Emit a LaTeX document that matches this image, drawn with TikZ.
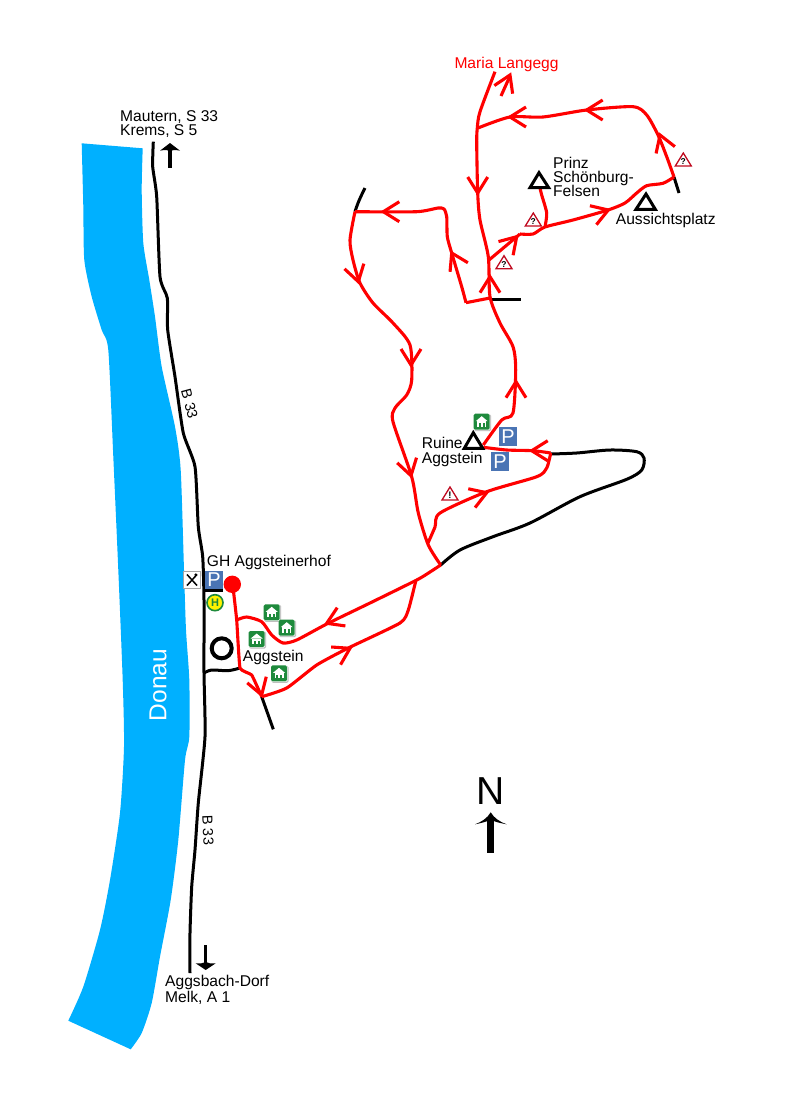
\documentclass[tikz,border=0pt]{standalone}
\usepackage{fontspec}
\setmainfont{Liberation Sans}
\definecolor{river}{HTML}{00B0FF}
\definecolor{pblue}{HTML}{4A74B4}
\definecolor{hgreen}{HTML}{1E8A3C}
\definecolor{wred}{HTML}{C00A20}
\tikzset{
  route/.style={draw=red,line width=3.1pt,line join=round},
  road/.style={draw=black,line width=3pt,line join=round},
  lab/.style={anchor=base west,inner sep=0pt,font=\fontsize{15.6}{16}\selectfont,text=black},
  peak/.style={draw=black,line width=3pt,line join=miter,fill=none},
  psign/.style={fill=pblue,draw=none,minimum size=18.5pt,inner sep=0pt,text=white,font=\fontsize{20}{20}\selectfont},
  chev/.pic={\draw[red,line width=3.1pt,line join=miter] (-16,10) -- (0,0) -- (-16,-10);},
  house/.pic={
    \fill[black!25,rounded corners=1.5pt] (-7.5,-7.5) rectangle (9.5,9.5);
    \fill[white,rounded corners=1.5pt] (-8,-8) rectangle (8.5,8.5);
    \fill[hgreen,rounded corners=1.5pt] (-8,-8) rectangle (8,8);
    \fill[white] (-6,-0.5) -- (0,-5.5) -- (6,-0.5) -- cycle;
    \fill[white] (-4.5,-0.5) rectangle (4.5,5);
    \fill[hgreen] (-2.8,1.5) rectangle (-0.8,5);
    \fill[hgreen] (0.8,1.5) rectangle (2.8,5);
  },
  warnbox/.pic={
    \draw[wred,line width=1.3pt,fill=white,line join=miter] (0,-7) -- (8,6) -- (-8,6) -- cycle;
  },
}
\begin{document}
\begin{tikzpicture}[x=1pt,y=-1pt]
\useasboundingbox[fill=white] (0,0) rectangle (800,1101);

% river
\fill[river] (81.7,143.3) -- (142.7,148.3) -- plot[smooth,tension=.4] coordinates {(142.7,148.3) (141.7,190) (143.3,243) (149.3,280) (155,316.7) (161.7,366.7) (175,426.7) (180.7,470) (184,570) (186,630) (189.3,680) (189.3,736.7) (185,760) (178.3,840) (170.7,900) (160,956.7) (151.7,1003) (141.7,1033) (130.7,1049.3)} -- (68.3,1020.7) -- plot[smooth,tension=.4] coordinates {(68.3,1020.7) (83.3,986.7) (100,930) (110,880) (120,813) (124,746.7) (122.7,680) (118.3,570) (113.3,456.7) (108.3,350) (101.7,330) (91.7,296.7) (84.3,260) (83.3,206.7) (81.7,143.3)} -- cycle;
\node[rotate=90,text=white,inner sep=0pt,font=\fontsize{24.5}{25}\selectfont] (donau) at (158,685) {Donau};

% black roads
\draw[road] plot[smooth,tension=.35] coordinates {(153.3,141.7) (152.7,166.7) (156.7,196.7) (160,276.7) (167.3,298) (167.7,330) (175,376.7) (183.3,433) (195,466.7) (198.3,526.7) (202.7,556.7) (204,600) (204,673) (205,736.7) (198.3,803) (195,850) (191.7,886.7) (190,933) (190,973)};
\draw[road] (203.3,590) -- (223,590);
\draw[road] plot[smooth,tension=.5] coordinates {(204,673) (211.7,670) (228,670.7) (240,668)};
\draw[road] (261.7,696.7) -- (273.3,729.3);
\draw[road] plot[smooth,tension=.5] coordinates {(550.7,454) (576.7,453) (610,450) (636.7,451.7) (644,458) (641.7,470) (626.7,479.3) (580,496.7) (530,523) (493,536.7) (460,550) (440.7,565)};
\draw[road] (490,299) -- (520.7,299);
\draw[road] (674,177) -- (679,193);
\draw[road] (355,211.7) .. controls (358,202) and (361,196) .. (365,188);
\draw[black,line width=4pt] (221.7,648.3) circle (10);

% red routes
\draw[route] plot[smooth,tension=.45] coordinates {(495,71.7) (480,111.7) (477.3,128) (476.7,143) (477.7,193) (480,220) (488.3,256.7) (490,296.7) (500,323) (513,346.7) (515.7,370) (513,413) (501.7,420) (483.3,445)};
\draw[route] plot[smooth,tension=.45] coordinates {(478,128) (510,117) (543,117) (586.7,110) (633,106.7) (646.7,115) (658,135) (666.7,156.7) (674,177)};
\draw[route] plot[smooth,tension=.45] coordinates {(674,177) (663,183.3) (646.7,185.7) (636.7,193) (625,203) (608,210) (573,220) (545,227) (533,234) (520,234)};
\draw[route] (520,234) -- (489,260);
\draw[route] plot[smooth,tension=.4] coordinates {(545,227) (546.7,213) (541.7,195) (540,188)};
\draw[route] (490,298) -- (466,302.7);
\draw[route] plot[smooth,tension=.4] coordinates {(466,302.7) (461.7,286.7) (451.7,253) (447.3,236.7) (446.7,216.7) (444,209) (438,208) (416.7,211.7) (355,211.7)};
\draw[route] plot[smooth,tension=.45] coordinates {(355,211.7) (350,240) (353,260) (360,283) (373,303) (393,323) (410,345) (411.7,380) (406.7,395) (395,408) (393,421.7) (411.7,476.7) (418.3,513) (428.3,545) (440.7,565)};
\draw[route] plot[smooth,tension=.45] coordinates {(428,543) (435,527) (440,513) (486.7,491.7) (536.7,476.7) (546.7,468) (550.7,453)};
\draw[route] plot[smooth,tension=.4] coordinates {(550.7,453) (533,450.7) (506.7,450) (483.3,447.3)};
\draw[route] plot[smooth,tension=.4] coordinates {(440.7,565) (430,572) (416.7,580) (370,603) (326.7,624) (296.7,640) (283,643) (271.7,635) (261.7,621.7) (246.7,617) (236.7,620)};
\draw[route] plot[smooth,tension=.35] coordinates {(416,580) (408.3,610) (400,623) (348.3,648) (316.7,665) (286.7,688) (261.7,696.7)};
\draw[route] plot[smooth,tension=.2] coordinates {(233,587) (236.7,620) (240,668) (251.7,675) (261.7,696.7)};
\fill[red] (232.3,584.3) circle (8.7);

% Maria Langegg arrow
\draw[route] (501,96) -- (510,76);
\pic[rotate=66] at (510,75) {chev};

% chevrons
\pic[rotate=180] at (510,117) {chev};
\pic[rotate=180] at (586.7,110) {chev};
\pic[rotate=110] at (660,135) {chev};
\pic[rotate=270] at (477.7,193) {chev};
\pic[rotate=19] at (608.3,210) {chev};
\pic[rotate=47] at (516.7,236.7) {chev};
\pic[rotate=90] at (490,276.7) {chev};
\pic[rotate=117] at (451.7,253) {chev};
\pic[rotate=180] at (383.3,211.7) {chev};
\pic[rotate=-75] at (358.3,281.7) {chev};
\pic[rotate=270] at (411,365) {chev};
\pic[rotate=90] at (516,381.7) {chev};
\pic[rotate=-75] at (411,475.7) {chev};
\pic[rotate=20] at (486.7,492.7) {chev};
\pic[rotate=180] at (531.7,450.7) {chev};
\pic[rotate=204] at (326.7,623.3) {chev};
\pic[rotate=28] at (350,648.3) {chev};
\pic[rotate=-72] at (261.7,695) {chev};

% peaks
\draw[peak] (539,172.7) -- (548.7,187.7) -- (530,187.7) -- cycle;
\draw[peak] (646,194) -- (655.3,209.3) -- (636,209.3) -- cycle;
\draw[peak] (473.3,432.7) -- (482.7,448.3) -- (464.3,448.3) -- cycle;

% direction arrows
\fill[black] (168.3,148) rectangle (171.7,168);
\fill[black] (170,143) -- (180,150.7) .. controls (175,149.5) and (172,150) .. (170,151) .. controls (168,150) and (165,149.5) .. (160,150.7) -- cycle;
\fill[black] (204,945) rectangle (207.4,965);
\fill[black] (205.7,970) -- (215.7,963.3) .. controls (211,963.5) and (208,963.5) .. (205.7,962) .. controls (203.4,963.5) and (200,963.5) .. (195.7,963.3) -- cycle;
\fill[black] (487.4,818) rectangle (494,853);
\fill[black] (490.7,812.3) .. controls (494,818) and (500,822) .. (506.7,824.3) .. controls (500,823) and (495,822) .. (490.7,819.5) .. controls (486.5,822) and (481,823) .. (475,824.3) .. controls (481.5,822) and (487.5,818) .. (490.7,812.3) -- cycle;
\node[inner sep=0pt,font=\fontsize{39}{39}\selectfont,anchor=base] (north) at (490.7,804.3) {N};

% signs
\node[psign] (p1) at (214,580) {P};
\node[psign] (p2) at (508,436.5) {P};
\node[psign] (p3) at (500,461.5) {P};
\node[draw=black!35,fill=white,line width=.8pt,minimum size=16.5pt,inner sep=0pt] (rest) at (192,580) {};
\draw[black,line width=1.5pt] (187,574.5) -- (197,585.5) (197,574.5) -- (187,585.5);
\fill[black] (195.8,574.8) circle (1.6);
\node[circle,draw=hgreen,fill=yellow,line width=1.6pt,minimum size=16pt,inner sep=0pt,text=hgreen,font=\bfseries\fontsize{11}{11}\selectfont] (bus) at (215,602.7) {H};

\pic at (271.7,612.3) {house};
\pic at (286.7,627.7) {house};
\pic at (256.7,639) {house};
\pic at (279,673.3) {house};
\pic at (481.7,421.7) {house};

\pic at (683.3,160) {warnbox};
\pic at (533.3,220) {warnbox};
\pic at (504,262.7) {warnbox};
\pic at (450,494) {warnbox};
\node[inner sep=0pt,font=\bfseries\fontsize{8.5}{9}\selectfont] (w1) at (683.3,161.5) {?};
\node[inner sep=0pt,font=\bfseries\fontsize{8.5}{9}\selectfont] (w2) at (533.3,221.5) {?};
\node[inner sep=0pt,font=\bfseries\fontsize{8.5}{9}\selectfont] (w3) at (504,264.2) {?};
\node[inner sep=0pt,font=\bfseries\fontsize{9.5}{9}\selectfont] (w4) at (450,495.5) {!};

% labels
\node[lab] (t1) at (120,121) {Mautern, S 33};
\node[lab] (t2) at (120,135) {Krems, S 5};
\node[lab] (t3) at (165,986) {Aggsbach-Dorf};
\node[lab] (t4) at (165,1002) {Melk, A 1};
\node[lab] (t5) at (553,168) {Prinz};
\node[lab] (t6) at (553,182) {Schönburg-};
\node[lab] (t7) at (553,196) {Felsen};
\node[lab] (t8) at (615.7,224) {Aussichtsplatz};
\node[lab] (t9) at (421.7,448) {Ruine};
\node[lab] (t10) at (421.7,463) {Aggstein};
\node[lab,text=red] (t11) at (454.3,68) {Maria Langegg};
\node[lab] (t12) at (206.7,566) {GH Aggsteinerhof};
\node[lab] (t13) at (242.7,661) {Aggstein};
\node[inner sep=0pt,rotate=-75,font=\fontsize{14.5}{14.5}\selectfont] (b1) at (189.5,404) {B 33};
\node[inner sep=0pt,rotate=-88,font=\fontsize{14.5}{14.5}\selectfont] (b2) at (208,830) {B 33};
\end{tikzpicture}
\end{document}
